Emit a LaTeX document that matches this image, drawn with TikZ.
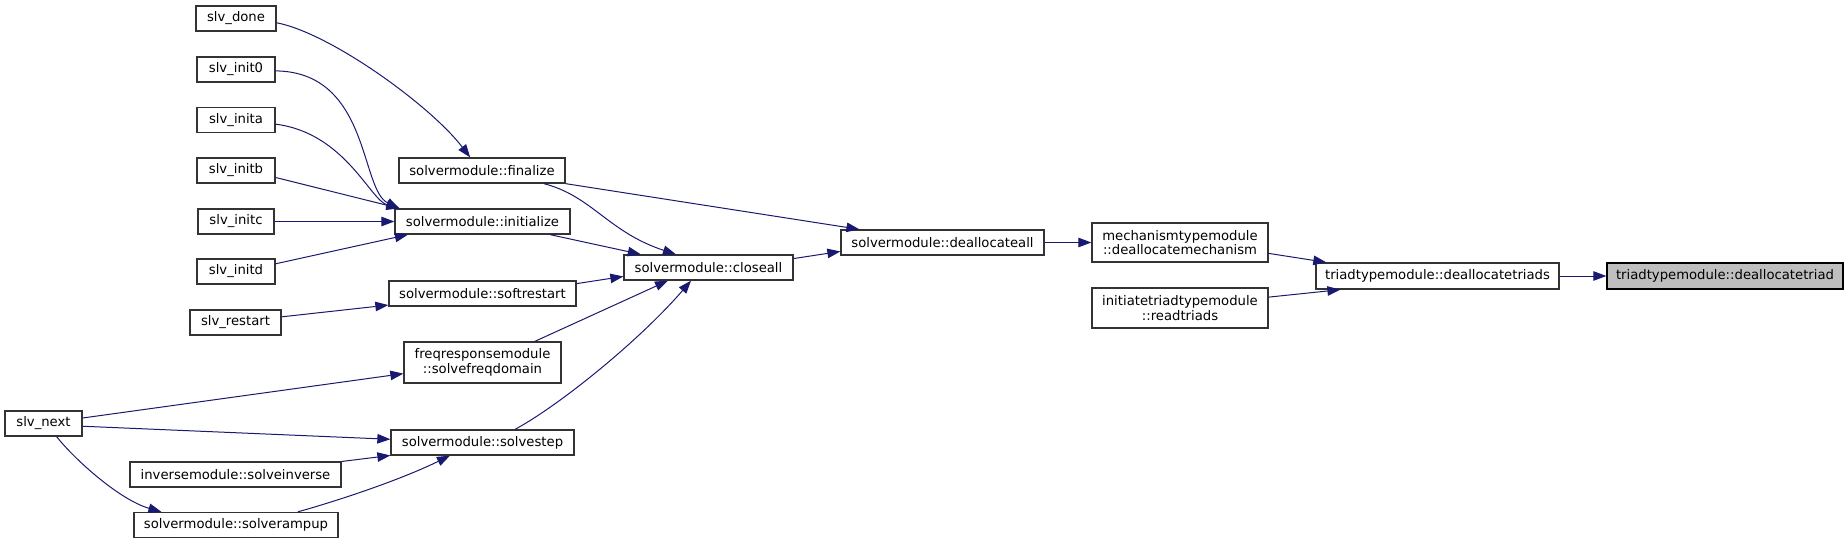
\documentclass[tikz,border=0pt]{standalone}
\usepackage{fontspec}
\setmainfont{DejaVu Sans}
\usetikzlibrary{arrows.meta}
\definecolor{edgeblue}{RGB}{25,25,112}
\definecolor{rootgrey}{RGB}{191,191,191}

\begin{document}
\begin{tikzpicture}[x=1pt, y=-1pt, >={Triangle[length=13pt,width=9.5pt]},
    fn/.style={draw=black!80, line width=1.3pt, fill=white, inner sep=0pt,
      minimum height=25pt, align=center, font=\fontsize{13.2}{14.5}\selectfont},
    call/.style={->, color=edgeblue, line width=1pt}]
    % 画布范围
    \useasboundingbox (0,0) rectangle (1848,544);

    % 左列调用者
    \node[fn, minimum width=80pt] (done) at (236,18.5) {slv\_done};
    \node[fn, minimum width=78pt] (init0) at (236,69.5) {slv\_init0};
    \node[fn, minimum width=78pt] (inita) at (236,120) {slv\_inita};
    \node[fn, minimum width=78pt] (initb) at (236,170.5) {slv\_initb};
    \node[fn, minimum width=76pt] (initc) at (236,221.5) {slv\_initc};
    \node[fn, minimum width=78pt] (initd) at (236,271.5) {slv\_initd};
    \node[fn, minimum width=91pt] (restart) at (235.5,322.5) {slv\_restart};
    \node[fn, minimum width=77pt] (next) at (43.5,423.5) {slv\_next};
    \node[fn, minimum width=211pt] (inv) at (235.5,474.5) {inversemodule::solveinverse};
    \node[fn, minimum width=204pt] (ramp) at (236,525) {solvermodule::solverampup};

    % 第二列
    \node[fn, minimum width=166pt] (fin) at (482,170.5) {solvermodule::finalize};
    \node[fn, minimum width=175pt] (init) at (482.5,221.5) {solvermodule::initialize};
    \node[fn, minimum width=187pt] (soft) at (482.5,293.5) {solvermodule::softrestart};
    \node[fn, minimum width=157pt, minimum height=41pt] (freq) at (482.5,362.5)
      {freqresponsemodule\\::solvefreqdomain};
    \node[fn, minimum width=183pt] (step) at (482.5,442.5) {solvermodule::solvestep};

    % 右侧各列
    \node[fn, minimum width=169pt] (cl) at (708.5,267.5) {solvermodule::closeall};
    \node[fn, minimum width=203pt] (dall) at (942.5,242.5) {solvermodule::deallocateall};
    \node[fn, minimum width=176pt, minimum height=39pt] (mech) at (1180,242.5)
      {mechanismtypemodule\\::deallocatemechanism};
    \node[fn, minimum width=176pt, minimum height=40pt] (read) at (1180,308)
      {initiatetriadtypemodule\\::readtriads};
    \node[fn, minimum width=243pt, minimum height=26pt] (tris) at (1437.5,276)
      {triadtypemodule::deallocatetriads};
    \node[fn, fill=rootgrey, draw=black, minimum width=236pt, minimum height=26pt] (tri)
      at (1725,276) {triadtypemodule::deallocatetriad};

    % 调用关系（左列 -> 第二列）
    \draw[call] (done.-6) .. controls (330,33) and (430,105) .. (fin.132);
    \draw[call] (init0.-2) .. controls (370,72) and (360,190) .. (init.171);
    \draw[call] (inita.-6) .. controls (345,133) and (370,200) .. (init.171);
    \draw[call] (initb.-10) -- (init.171);
    \draw[call] (initc.east) -- (init.west);
    \draw[call] (initd.11) -- (init.190);
    \draw[call] (restart.7) -- (soft.187);
    \draw[call] (next.8) -- (freq.188);
    \draw[call] (next.-4) -- (step.178);
    \draw[call] (next.-45) .. controls (75,460) and (120,500) .. (ramp.170);
    \draw[call] (inv.7) -- (step.188);
    \draw[call] (ramp.12) .. controls (340,500) and (400,480) .. (step.202);

    % 调用关系（第二列 -> closeall / deallocateall）
    \draw[call] (fin.-12) .. controls (592,196) and (608,232) .. (cl.158);
    \draw[call] (fin.south east) -- (dall.171);
    \draw[call] (init.-11) -- (cl.169);
    \draw[call] (soft.6) -- (cl.186);
    \draw[call] (freq.22) -- (cl.198);
    \draw[call] (step.22) .. controls (560,405) and (640,340) .. (cl.217);

    % 调用关系（右侧）
    \draw[call] (cl.6) -- (dall.185);
    \draw[call] (dall.east) -- (mech.west);
    \draw[call] (mech.-7) -- (tris.173);
    \draw[call] (read.7) -- (tris.188);
    \draw[call] (tris.east) -- (tri.west);
\end{tikzpicture}
\end{document}
